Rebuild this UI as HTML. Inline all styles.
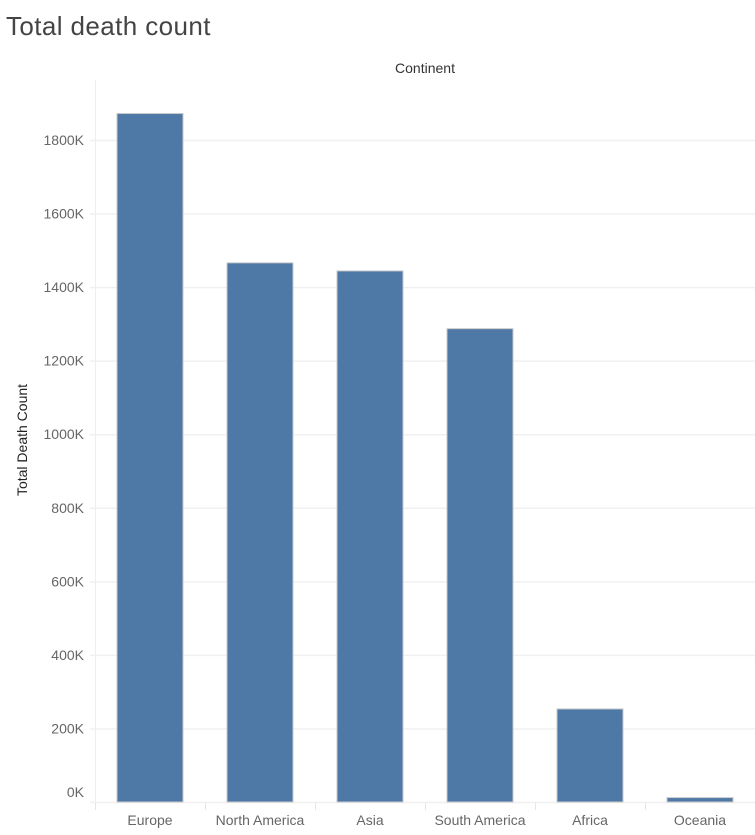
<!DOCTYPE html>
<html><head><meta charset="utf-8"><style>
body{margin:0;background:#fff;width:755px;height:830px;overflow:hidden;font-family:"Liberation Sans",sans-serif}
</style></head><body>
<svg id="c" width="755" height="830">
<text x="6" y="35" font-size="26" letter-spacing="0.4" fill="#444">Total death count</text>
<text x="425" y="73" font-size="14" fill="#333" text-anchor="middle">Continent</text>
<text transform="translate(27,440) rotate(-90)" font-size="14" fill="#222" text-anchor="middle">Total Death Count</text>
<g id="g"></g>
</svg>
<script>
const categories=["Europe","North America","Asia","South America","Africa","Oceania"];
const deaths=[1872,1466,1444,1287,253,12];
const ticks=[0,200,400,600,800,1000,1200,1400,1600,1800];
const ns="http://www.w3.org/2000/svg";
const g=document.getElementById('g');
const y0=802,yTop=140,maxV=1800;
const y=v=>y0-(v/maxV)*(y0-yTop);
const x=i=>95+i*110;
function el(t,a){const e=document.createElementNS(ns,t);for(const k in a)e.setAttribute(k,a[k]);g.appendChild(e);return e;}
const ax=el('line',{x1:95.5,y1:80,x2:95.5,y2:802,stroke:'#eee'});


ticks.forEach(t=>{
 const l=el('line',{x1:90,x2:755,y1:y(t)+0.5,y2:y(t)+0.5,stroke:'#f0f0f0','stroke-width':1.5});
 
 
 const tx=el('text',{x:84,y:(t===0?y(t)-5:y(t)+5),'font-size':14,fill:'#666','text-anchor':'end'});
 tx.textContent=t+'K';
 
 
});
categories.forEach((c,i)=>{
 const tk=el('line',{x1:x(i)+0.5,x2:x(i)+0.5,y1:803,y2:810,stroke:'#e6e6e6'});
 
 
 const b=el('rect',{x:x(i)+22,y:y(deaths[i]),width:66,height:y0-y(deaths[i]),fill:'#4e79a7',stroke:'#c8c8c8','stroke-width':1});
 
 
 const t=el('text',{x:x(i)+55,y:825,'font-size':14,fill:'#666','text-anchor':'middle'});
 t.textContent=c;
 
 
});
</script>
</body></html>
